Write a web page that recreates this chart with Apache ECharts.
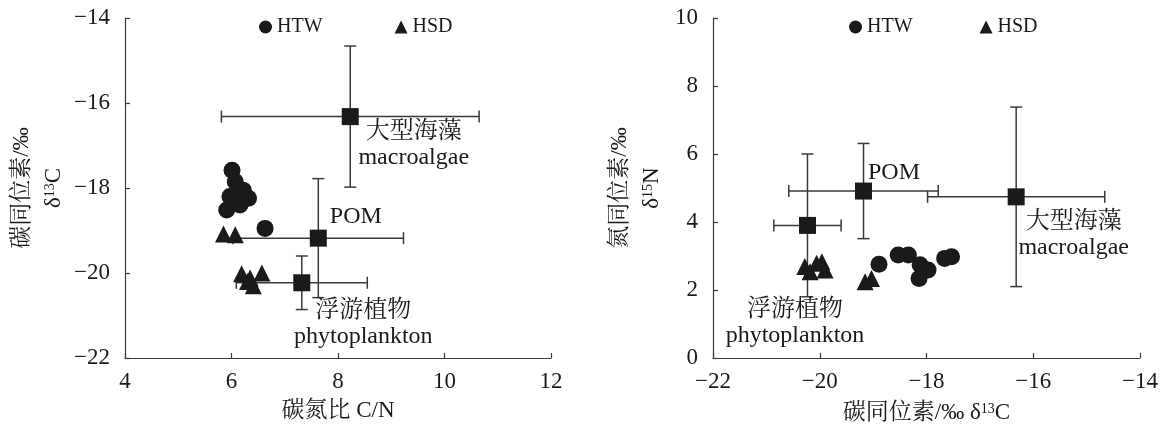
<!DOCTYPE html>
<html>
<head>
<meta charset="utf-8">
<script src="https://cdn.jsdelivr.net/npm/echarts@6/dist/echarts.min.js"></script>
<style>
  html, body { margin: 0; padding: 0; background: #fff; }
  #chart { width: 1165px; height: 430px; }
</style>
</head>
<body>
<div id="chart"></div>
<script>
// HTW samples (circles)
const htwCN   = [6.01, 6.07, 6.22, 6.32, 5.97, 5.91, 6.16, 6.63];
const htwC13  = [-17.58, -17.85, -18.05, -18.24, -18.20, -18.52, -18.40, -18.95];
const htwC13b = [-18.89, -18.53, -18.34, -18.12, -17.97, -18.14, -17.66, -17.53];
const htwN15  = [2.76, 3.03, 3.03, 2.74, 2.59, 2.34, 2.93, 2.98];

// HSD samples (triangles)
const hsdCN   = [5.85, 6.07, 6.19, 6.35, 6.57, 6.41, 6.30];
const hsdC13  = [-19.08, -19.10, -20.02, -20.12, -20.00, -20.30, -20.20];
const hsdC13b = [-20.28, -20.06, -19.96, -19.90, -20.18, -19.15, -19.03];
const hsdN15  = [2.69, 2.79, 2.83, 2.59, 2.54, 2.24, 2.34];

// Potential organic matter sources: mean ± SD
const srcNames  = ['大型海藻\nmacroalgae', 'POM', '浮游植物\nphytoplankton'];
const srcCN     = [8.23, 7.63, 7.32];
const srcCNsd   = [2.42, 1.60, 1.23];
const srcC13    = [-16.32, -19.18, -20.23];
const srcC13sd  = [1.66, 1.40, 0.63];
const srcN15    = [4.74, 4.91, 3.90];
const srcN15sd  = [2.64, 1.40, 2.10];

// Axis ranges / ticks
const cnAxis  = { min: 4, max: 12, interval: 2 };
const c13Axis = { min: -22, max: -14, interval: 2 };
const n15Axis = { min: 0, max: 10, interval: 2 };

const FONT = '"Liberation Serif", "Noto Serif CJK SC", "Noto Sans CJK SC", serif';
const INK = '#1a1a1a';
const LINE = '#3a3a3a';
const TICK_FS = 23;
const TITLE_FS = 23;
const NOTE_FS = 24;
const LEGEND_FS = 20;

// where each source label sits relative to its square (per panel)
const leftLabelStyle = [
  { position: [72, 11], align: 'center' },
  { position: [46, -26], align: 'center' },
  { position: [70, 23], align: 'center' }
];
const rightLabelStyle = [
  { position: [66, 20], align: 'center' },
  { position: [39, -23], align: 'center' },
  { position: [-4, 80], align: 'center' }
];

const zip = (a, b) => a.map((v, i) => [v, b[i]]);
const minus = v => String(v).replace('-', '\u2212');

function axisBase(range, extra) {
  return Object.assign({
    type: 'value',
    min: range.min, max: range.max, interval: range.interval,
    splitLine: { show: false },
    axisLine: { show: true, onZero: false, lineStyle: { color: LINE, width: 1.2 } },
    axisTick: { show: true, inside: true, length: 5, lineStyle: { color: LINE, width: 1.2 } },
    axisLabel: { color: INK, fontFamily: FONT, fontSize: TICK_FS, margin: 15, formatter: minus },
    nameTextStyle: { color: INK, fontFamily: FONT, fontSize: TITLE_FS }
  }, extra);
}

function errorBars(xs, ys, xsd, ysd) {
  return xs.map((x, i) => [x, ys[i], xsd[i], ysd[i]]);
}

function errorBarRender(params, api) {
  const x = api.value(0), y = api.value(1), dx = api.value(2), dy = api.value(3);
  const l = api.coord([x - dx, y]), r = api.coord([x + dx, y]);
  const t = api.coord([x, y + dy]), b = api.coord([x, y - dy]);
  const cap = 6;
  const style = { stroke: LINE, lineWidth: 1.5, fill: null };
  const seg = (x1, y1, x2, y2) => ({ type: 'line', shape: { x1, y1, x2, y2 }, style });
  return {
    type: 'group',
    children: [
      seg(l[0], l[1], r[0], r[1]),
      seg(l[0], l[1] - cap, l[0], l[1] + cap),
      seg(r[0], r[1] - cap, r[0], r[1] + cap),
      seg(t[0], t[1], b[0], b[1]),
      seg(t[0] - cap, t[1], t[0] + cap, t[1]),
      seg(b[0] - cap, b[1], b[0] + cap, b[1])
    ]
  };
}

function sourceData(xs, ys, styles) {
  return xs.map((x, i) => ({
    value: [x, ys[i]],
    label: {
      show: true,
      formatter: srcNames[i],
      position: styles[i].position,
      align: styles[i].align,
      verticalAlign: 'top',
      color: INK, fontFamily: FONT, fontSize: NOTE_FS, lineHeight: 26
    }
  }));
}

function isotopeName(head, mass, elem) {
  return {
    name: '{t|' + head + '}{s|' + mass + '}{t|' + elem + '}',
    rich: {
      t: { color: INK, fontFamily: FONT, fontSize: TITLE_FS, lineHeight: 32 },
      s: { color: INK, fontFamily: FONT, fontSize: 14, lineHeight: 32, padding: [0, 0, 8, 0] }
    }
  };
}

const xName2 = isotopeName('碳同位素/‰ δ', '13', 'C');
const yName1 = isotopeName('碳同位素/‰}\n{t|δ', '13', 'C');
const yName2 = isotopeName('氮同位素/‰}\n{t|δ', '15', 'N');

const chart = echarts.init(document.getElementById('chart'), null, { renderer: 'canvas' });

const pointStyle = { color: INK, opacity: 1 };
const legendText = { color: INK, fontFamily: FONT, fontSize: LEGEND_FS };

chart.setOption({
  animation: false,
  backgroundColor: '#fff',
  textStyle: { fontFamily: FONT },
  grid: [
    { left: 125, top: 18, width: 426, height: 340 },
    { left: 713, top: 18, width: 427, height: 340 }
  ],
  legend: [
    { data: ['HTW', 'HSD'], left: 254, top: 12, itemGap: 72, itemWidth: 13, itemHeight: 13,
      textStyle: legendText, selectedMode: false },
    { data: ['HTW', 'HSD'], left: 844, top: 12, itemGap: 67, itemWidth: 13, itemHeight: 13,
      textStyle: legendText, selectedMode: false }
  ],
  xAxis: [
    axisBase(cnAxis, { gridIndex: 0, name: '碳氮比 C/N', nameLocation: 'middle', nameGap: 41,
      axisLabel: { color: INK, fontFamily: FONT, fontSize: TICK_FS, margin: 12, formatter: minus } }),
    axisBase(c13Axis, { gridIndex: 1, nameLocation: 'middle', nameGap: 39,
      name: xName2.name, nameTextStyle: { rich: xName2.rich },
      axisLabel: { color: INK, fontFamily: FONT, fontSize: TICK_FS, margin: 12, formatter: minus } })
  ],
  yAxis: [
    axisBase(c13Axis, { gridIndex: 0, nameLocation: 'middle', nameGap: 54, nameRotate: 90,
      name: yName1.name, nameTextStyle: { lineHeight: 32, rich: yName1.rich } }),
    axisBase(n15Axis, { gridIndex: 1, nameLocation: 'middle', nameGap: 45, nameRotate: 90,
      name: yName2.name, nameTextStyle: { lineHeight: 32, rich: yName2.rich } })
  ],
  series: [
    // C/N vs δ13C
    { name: 'HTW', type: 'scatter', xAxisIndex: 0, yAxisIndex: 0, symbol: 'circle', symbolSize: 17,
      itemStyle: pointStyle, data: zip(htwCN, htwC13), z: 3 },
    { name: 'HSD', type: 'scatter', xAxisIndex: 0, yAxisIndex: 0, symbol: 'triangle', symbolSize: 17,
      itemStyle: pointStyle, data: zip(hsdCN, hsdC13), z: 3 },
    { name: 'errL', type: 'custom', xAxisIndex: 0, yAxisIndex: 0, renderItem: errorBarRender,
      data: errorBars(srcCN, srcC13, srcCNsd, srcC13sd), z: 2 },
    { name: 'srcL', type: 'scatter', xAxisIndex: 0, yAxisIndex: 0, symbol: 'rect', symbolSize: 17,
      itemStyle: pointStyle, data: sourceData(srcCN, srcC13, leftLabelStyle), z: 4 },

    // δ13C vs δ15N
    { name: 'HTW', type: 'scatter', xAxisIndex: 1, yAxisIndex: 1, symbol: 'circle', symbolSize: 17,
      itemStyle: pointStyle, data: zip(htwC13b, htwN15), z: 3 },
    { name: 'HSD', type: 'scatter', xAxisIndex: 1, yAxisIndex: 1, symbol: 'triangle', symbolSize: 17,
      itemStyle: pointStyle, data: zip(hsdC13b, hsdN15), z: 3 },
    { name: 'errR', type: 'custom', xAxisIndex: 1, yAxisIndex: 1, renderItem: errorBarRender,
      data: errorBars(srcC13, srcN15, srcC13sd, srcN15sd), z: 2 },
    { name: 'srcR', type: 'scatter', xAxisIndex: 1, yAxisIndex: 1, symbol: 'rect', symbolSize: 17,
      itemStyle: pointStyle, data: sourceData(srcC13, srcN15, rightLabelStyle), z: 4 }
  ]
});
</script>
</body>
</html>
